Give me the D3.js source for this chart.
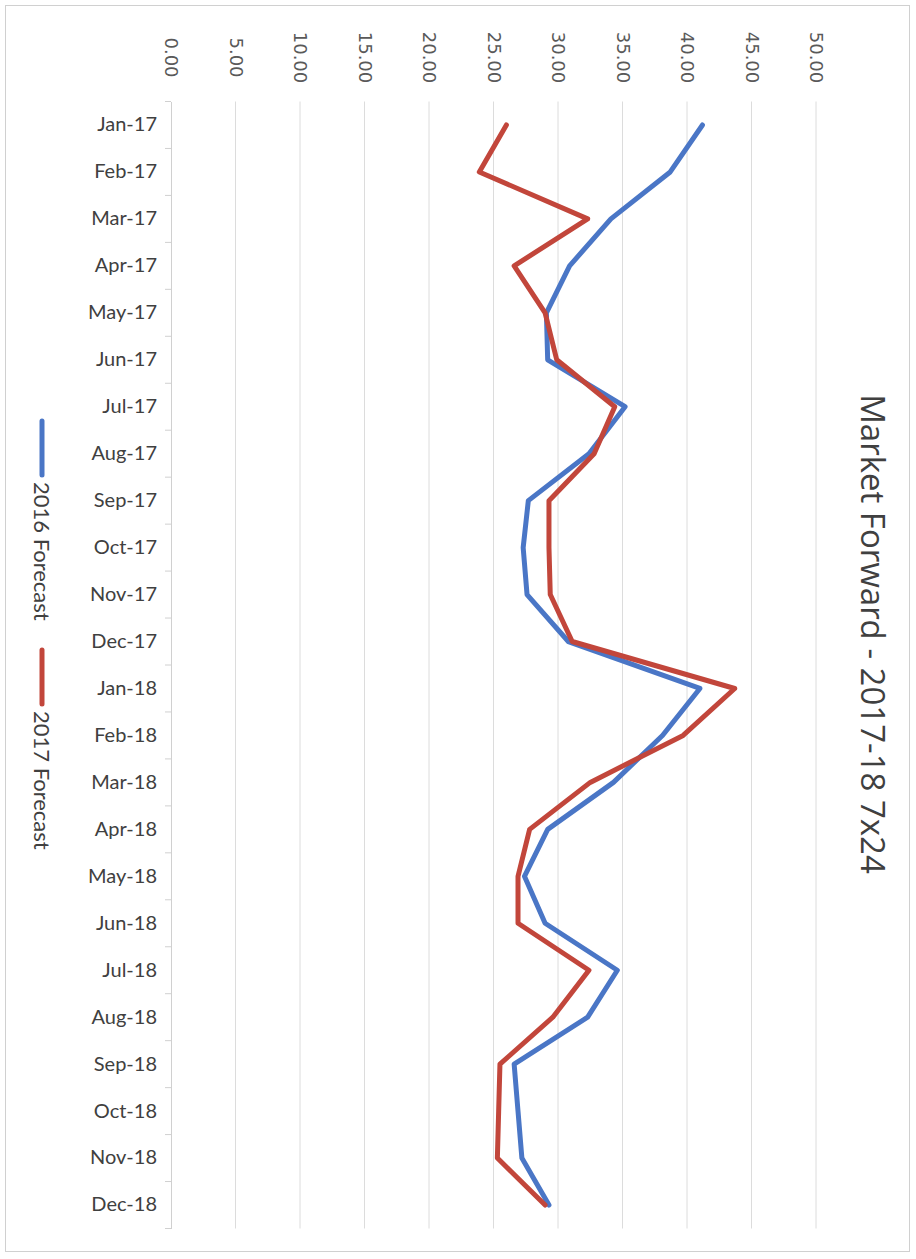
<!DOCTYPE html>
<html>
<head>
<meta charset="utf-8">
<script src="https://cdn.jsdelivr.net/npm/d3@7"></script>
<style>
  body { margin: 0; background: #fff; }
</style>
</head>
<body>
<script>
// chart values
var months = ["Jan-17", "Feb-17", "Mar-17", "Apr-17", "May-17", "Jun-17", "Jul-17", "Aug-17",
  "Sep-17", "Oct-17", "Nov-17", "Dec-17", "Jan-18", "Feb-18", "Mar-18", "Apr-18",
  "May-18", "Jun-18", "Jul-18", "Aug-18", "Sep-18", "Oct-18", "Nov-18", "Dec-18"];
var forecast2016 = [41.2, 38.7, 34.1, 30.9, 29.1, 29.2, 35.2, 32.4, 27.7, 27.3, 27.6, 30.8,
  41.0, 38.1, 34.3, 29.2, 27.4, 29.0, 34.6, 32.3, 26.6, 26.9, 27.2, 29.3];
var forecast2017 = [26.0, 23.9, 32.3, 26.6, 29.0, 29.9, 34.4, 32.8, 29.3, 29.3, 29.4, 31.1,
  43.7, 39.7, 32.5, 27.8, 26.9, 26.9, 32.4, 29.6, 25.5, 25.4, 25.3, 29.0];
var valueTicks = [0, 5, 10, 15, 20, 25, 30, 35, 40, 45, 50];
var seriesNames = ["2016 Forecast", "2017 Forecast"];
var seriesColors = ["#4a76c6", "#c2463b"];

var w = 916;
var h = 1259;

var svg = d3.select("body").append("svg").attr("width", w).attr("height", h);

// outer frame of the chart area
svg.append("rect")
  .attr("x", 5.5).attr("y", 5.5)
  .attr("width", 904).attr("height", 1246)
  .attr("fill", "none")
  .attr("stroke", "#d0d0d0")
  .attr("stroke-width", 1);

// the plot is turned on its side: months go down, values go right
var x = d3.scaleLinear().domain([0, 50]).range([171, 816]);
var y = d3.scaleBand().domain(months).range([101.5, 1228.5]);

// gridlines
svg.append("g")
  .selectAll("line")
  .data(valueTicks.slice(1))
  .enter()
  .append("line")
  .attr("x1", d => x(d)).attr("x2", d => x(d))
  .attr("y1", 101.5).attr("y2", 1228.5)
  .attr("stroke", "#dcdcdc")
  .attr("stroke-width", 1);

// value axis on top, labels turned
var xAxis = svg.append("g")
  .attr("transform", "translate(0,101.5)")
  .call(d3.axisTop(x).tickValues(valueTicks).tickFormat(d3.format(".2f")).tickSize(0));
xAxis.select(".domain").remove();
xAxis.selectAll("text")
  .attr("y", 0)
  .attr("dy", "0.35em")
  .attr("transform", "translate(0,-44) rotate(90)")
  .attr("text-anchor", "middle")
  .attr("font-family", "DejaVu Sans")
  .attr("font-size", 18)
  .attr("fill", "#595959");

// category axis on the left
var yAxis = svg.append("g")
  .attr("transform", "translate(171,0)")
  .call(d3.axisLeft(y).tickSize(0).tickPadding(14));
yAxis.select(".domain").attr("stroke", "#d0d0d0");
yAxis.selectAll("text")
  .attr("font-family", "Lato")
  .attr("font-size", 20)
  .attr("fill", "#404040");

// small ticks between months
yAxis.selectAll("line.sep")
  .data(months.concat(["end"]))
  .enter()
  .append("line")
  .attr("class", "sep")
  .attr("x1", -6).attr("x2", 0)
  .attr("y1", (d, i) => 101.5 + i * y.step())
  .attr("y2", (d, i) => 101.5 + i * y.step())
  .attr("stroke", "#d0d0d0");

// the two series
var line = d3.line()
  .x(d => x(d.v))
  .y(d => y(d.m) + y.bandwidth() / 2);

[forecast2016, forecast2017].forEach(function (vals, k) {
  svg.append("path")
    .datum(vals.map((v, i) => ({ m: months[i], v: v })))
    .attr("d", line)
    .attr("fill", "none")
    .attr("stroke", seriesColors[k])
    .attr("stroke-width", 5)
    .attr("stroke-linejoin", "round")
    .attr("stroke-linecap", "round");
});

// title, turned
svg.append("text")
  .attr("transform", "translate(873,634) rotate(90)")
  .attr("text-anchor", "middle")
  .attr("dy", "0.35em")
  .attr("font-family", "Open Sans")
  .attr("font-size", 33)
  .attr("fill", "#404040")
  .text("Market Forward - 2017-18 7x24");

// legend, turned
var legendY = [421, 650];
seriesNames.forEach(function (name, k) {
  var g = svg.append("g").attr("transform", "translate(42," + legendY[k] + ")");
  g.append("line")
    .attr("x1", 0).attr("x2", 0)
    .attr("y1", 0).attr("y2", 54)
    .attr("stroke", seriesColors[k])
    .attr("stroke-width", 5)
    .attr("stroke-linecap", "round");
  g.append("text")
    .attr("transform", "translate(0,61) rotate(90)")
    .attr("dy", "0.35em")
    .attr("font-family", "Lato")
    .attr("font-size", 22)
    .attr("fill", "#404040")
    .text(name);
});
</script>
</body>
</html>
